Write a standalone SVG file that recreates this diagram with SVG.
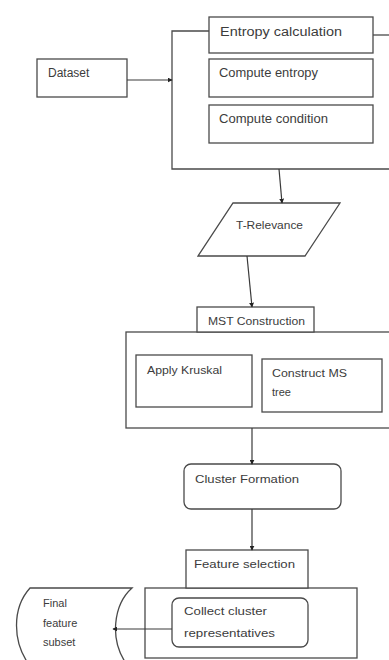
<svg xmlns="http://www.w3.org/2000/svg" width="389" height="660" viewBox="0 0 389 660">
<style>
.b{fill:#fff;stroke:#4a4a4a;stroke-width:1.3}
.o{fill:none;stroke:#4a4a4a;stroke-width:1.3}
.t{font-family:"Liberation Sans",Arial,sans-serif;fill:#3c3c3c}
.s12{font-size:12px}
.s11{font-size:11px}
.c{fill:none;stroke:#3a3a3a;stroke-width:1.2}
</style>
<defs>
<marker id="ah" viewBox="0 0 8 8" refX="7" refY="4" markerWidth="5" markerHeight="5" orient="auto" markerUnits="userSpaceOnUse">
<path d="M0,0 L8,4 L0,8 Z" fill="#222"/>
</marker>
</defs>
<rect width="389" height="660" fill="#fff"/>
<g id="entropy-group">
<path class="o" d="M209,31 H172 V169 H392"/>
<path class="o" d="M373,35 H392"/>
</g>
<g id="entropy-calculation">
<rect class="b" x="209" y="17" width="164" height="36"/>
<text class="t s12" x="220" y="36" textLength="122" lengthAdjust="spacingAndGlyphs">Entropy calculation</text>
</g>
<g id="compute-entropy">
<rect class="b" x="209" y="59" width="164" height="38"/>
<text class="t s12" x="219" y="77" textLength="99" lengthAdjust="spacingAndGlyphs">Compute entropy</text>
</g>
<g id="compute-condition">
<rect class="b" x="209" y="105" width="164" height="38"/>
<text class="t s12" x="219" y="123" textLength="109" lengthAdjust="spacingAndGlyphs">Compute condition</text>
</g>
<g id="dataset">
<rect class="b" x="37" y="59" width="90" height="38"/>
<text class="t s12" x="48" y="77">Dataset</text>
</g>
<g id="t-relevance">
<polygon class="b" points="233,203 340,203 305,256 198,256"/>
<text class="t s11" x="236" y="229" textLength="67" lengthAdjust="spacingAndGlyphs">T-Relevance</text>
</g>
<g id="mst-group">
<rect class="b" x="126" y="332" width="270" height="96"/>
</g>
<g id="mst-construction">
<rect class="b" x="197" y="307" width="117" height="25"/>
<text class="t s11" x="208" y="325" textLength="97" lengthAdjust="spacingAndGlyphs">MST Construction</text>
</g>
<g id="apply-kruskal">
<rect class="b" x="136" y="355" width="116" height="52"/>
<text class="t s11" x="147" y="374" textLength="75" lengthAdjust="spacingAndGlyphs">Apply Kruskal</text>
</g>
<g id="construct-ms-tree">
<rect class="b" x="262" y="359" width="120" height="53"/>
<text class="t s11" x="272" y="377" textLength="75" lengthAdjust="spacingAndGlyphs">Construct MS</text>
<text class="t s11" x="272" y="396">tree</text>
</g>
<g id="cluster-formation">
<rect class="b" x="184" y="464" width="157" height="45" rx="7"/>
<text class="t s11" x="195" y="483" textLength="104" lengthAdjust="spacingAndGlyphs">Cluster Formation</text>
</g>
<g id="feature-selection-group">
<rect class="b" x="145" y="588" width="212" height="70"/>
</g>
<g id="feature-selection">
<rect class="b" x="186" y="550" width="122" height="38"/>
<text class="t s11" x="194" y="568" textLength="101" lengthAdjust="spacingAndGlyphs">Feature selection</text>
</g>
<g id="collect-cluster-representatives">
<rect class="b" x="172" y="598" width="136" height="49" rx="7"/>
<text class="t s11" x="184" y="615" textLength="83" lengthAdjust="spacingAndGlyphs">Collect cluster</text>
<text class="t s11" x="184" y="637" textLength="91" lengthAdjust="spacingAndGlyphs">representatives</text>
</g>
<g id="final-feature-subset">
<path class="b" d="M30,588 H132 C114,604 108,640 128,666 H30 C12,642 12,608 30,588 Z"/>
<text class="t s11" x="43" y="607">Final</text>
<text class="t s11" x="43" y="627">feature</text>
<text class="t s11" x="43" y="646">subset</text>
</g>
<g id="connectors">
<line class="c" x1="127" y1="80" x2="172" y2="80" marker-end="url(#ah)"/>
<line class="c" x1="279" y1="169" x2="282" y2="203" marker-end="url(#ah)"/>
<line class="c" x1="247" y1="256" x2="252" y2="307" marker-end="url(#ah)"/>
<line class="c" x1="252" y1="428" x2="252" y2="464" marker-end="url(#ah)"/>
<line class="c" x1="252" y1="509" x2="252" y2="550" marker-end="url(#ah)"/>
<line class="c" x1="172" y1="629" x2="113" y2="629" marker-end="url(#ah)"/>
</g>
</svg>
